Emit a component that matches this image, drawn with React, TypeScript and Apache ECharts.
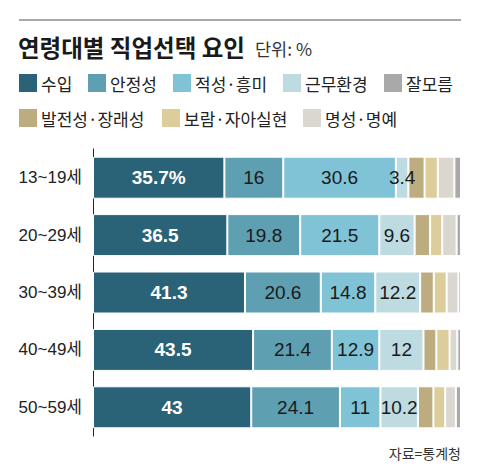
import React, { useEffect, useRef } from "react";
import * as echarts from "echarts";

const categories = ["13~19세", "20~29세", "30~39세", "40~49세", "50~59세"];
const seriesNames = ["수입", "안정성", "적성·흥미", "근무환경", "발전성·장래성", "보람·자아실현", "명성·명예", "잘모름"];
const income = [35.7, 36.5, 41.3, 43.5, 43];
const stability = [16, 19.8, 20.6, 21.4, 24.1];
const aptitude = [30.6, 21.5, 14.8, 12.9, 11];
const environment = [3.4, 9.6, 12.2, 12, 10.2];
const growth = [4.4, 4.2, 3.7, 3.5, 4.2];
const fulfillment = [3.6, 3.3, 3.5, 3.6, 3.2];
const prestige = [4.5, 3.9, 3.2, 2.1, 2.9];
const unknown = [1.8, 1.2, 0.7, 1.0, 1.4];

const seriesValues = [income, stability, aptitude, environment, growth, fulfillment, prestige, unknown];
const colors = ["#2a6277", "#5e9fb1", "#80c3d6", "#bfdbe2", "#bdac80", "#dccd9b", "#d9d7d0", "#a9a9a9"];

// legend layout: [name, left, top]
const legendLayout: [string, number, number][] = [
  ["수입", 19, 74],
  ["안정성", 88, 74],
  ["적성·흥미", 173, 74],
  ["근무환경", 283, 74],
  ["잘모름", 384, 74],
  ["발전성·장래성", 19, 109],
  ["보람·자아실현", 162, 109],
  ["명성·명예", 303, 109],
];

const KR = '"Noto Sans CJK KR", "Noto Sans", sans-serif';
const NUM = '"Liberation Sans", Arial, "Noto Sans CJK KR", sans-serif';

export default function App() {
  const ref = useRef<HTMLDivElement>(null);
  useEffect(() => {
    document.body.style.margin = "0";
    const chart = echarts.init(ref.current!, null, { renderer: "svg" });
    const series = seriesNames.map((name, i) => ({
      name,
      type: "bar",
      stack: "total",
      barWidth: 42,
      data: seriesValues[i],
      itemStyle: { color: colors[i], borderColor: "#ffffff", borderWidth: 1 },
      label: {
        show: i < 4,
        position: "inside",
        fontFamily: NUM,
        fontSize: 19,
        fontWeight: i === 0 ? "bold" : "normal",
        color: i === 0 ? "#ffffff" : "#1a1a1a",
        formatter: (p: any) => (i === 0 && p.dataIndex === 0 ? `${p.value}%` : `${p.value}`),
      },
    }));
    chart.setOption({
      animation: false,
      backgroundColor: "#ffffff",
      title: [
        {
          text: "연령대별 직업선택 요인",
          left: 18,
          top: 33,
          padding: 0,
          textStyle: { fontFamily: KR, fontSize: 23.5, fontWeight: "bold", color: "#1a1a1a", lineHeight: 28 },
        },
        {
          text: "단위: %",
          left: 255,
          top: 37,
          padding: 0,
          textStyle: { fontFamily: KR, fontSize: 17.5, fontWeight: "normal", color: "#333333", lineHeight: 22 },
        },
        {
          text: "자료=통계청",
          right: 19,
          top: 445,
          padding: 0,
          textStyle: { fontFamily: KR, fontSize: 14, fontWeight: "normal", color: "#333333", lineHeight: 16 },
        },
      ],
      legend: legendLayout.map(([name, left, top]) => ({
        data: [name],
        left,
        top,
        padding: 0,
        itemWidth: 18,
        itemHeight: 18,
        icon: "rect",
        selectedMode: false,
        itemStyle: { borderWidth: 0 },
        textStyle: { fontFamily: KR, fontSize: 17, color: "#222222", padding: [0, 0, 0, -1] },
      })),
      graphic: [
        {
          type: "line",
          shape: { x1: 19, y1: 20, x2: 461, y2: 20 },
          style: { stroke: "#8c8c8c", lineWidth: 1.5 },
        },
      ],
      grid: { left: 93, right: 19, top: 149, bottom: 39, containLabel: false },
      xAxis: {
        type: "value",
        min: 0,
        max: 100,
        show: false,
      },
      yAxis: {
        type: "category",
        data: categories,
        inverse: true,
        axisLine: { show: true, lineStyle: { color: "#222222", width: 1 } },
        axisTick: { show: false },
        axisLabel: { fontFamily: NUM, fontSize: 17, color: "#222222", margin: 11 },
      },
      series,
    });
    return () => chart.dispose();
  }, []);
  return <div ref={ref} style={{ width: 480, height: 475 }} />;
}
